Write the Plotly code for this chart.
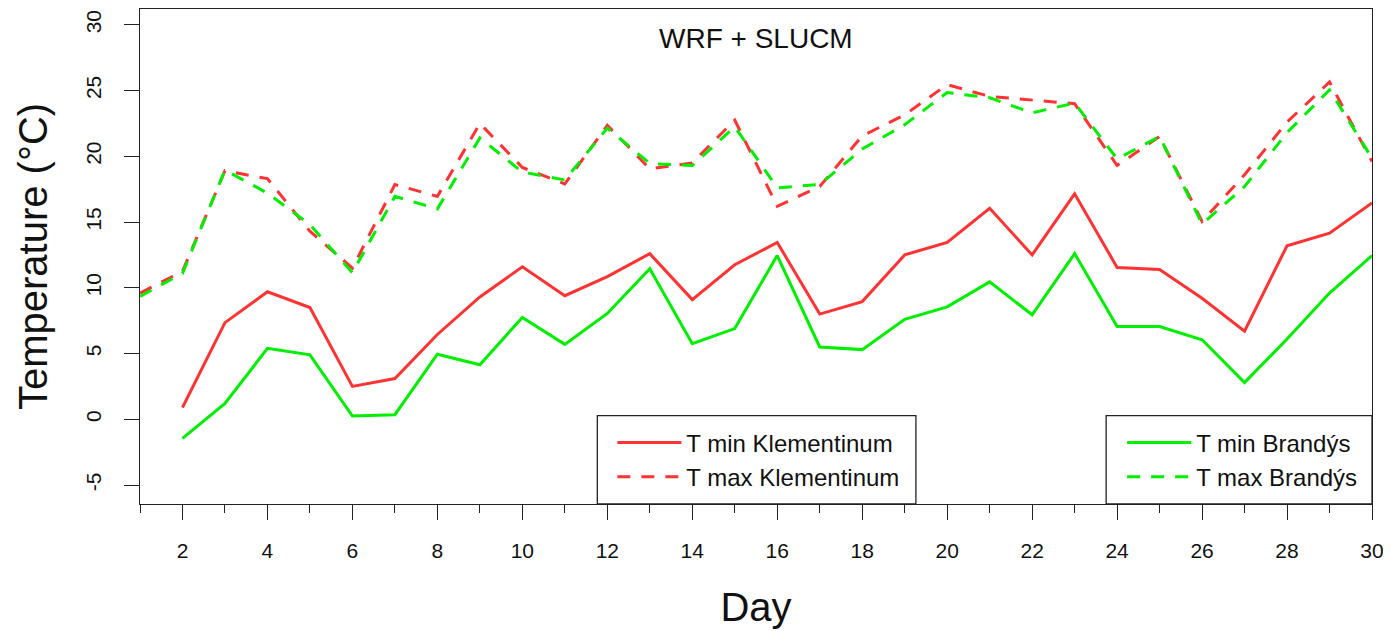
import plotly.graph_objects as go

days = list(range(1, 31))
tmin_klem = [None, 0.9, 7.35, 9.7, 8.5, 2.5, 3.1, 6.45, 9.3, 11.6, 9.4, 10.85, 12.6, 9.1, 11.75,
             13.45, 8.0, 8.95, 12.5, 13.45, 16.05, 12.5, 17.15, 11.55, 11.4, 9.2, 6.7, 13.2, 14.15, 16.45]
tmin_bran = [None, -1.45, 1.2, 5.4, 4.9, 0.25, 0.35, 4.95, 4.15, 7.75, 5.7, 8.05, 11.45, 5.75, 6.9,
             12.45, 5.5, 5.3, 7.6, 8.55, 10.45, 7.95, 12.6, 7.05, 7.05, 6.05, 2.8, 6.1, 9.6, 12.45]
tmax_klem = [9.6, 11.25, 18.9, 18.3, 14.3, 11.5, 17.85, 16.95, 22.5, 19.15, 17.9, 22.35, 19.05, 19.5, 22.75,
             16.2, 17.7, 21.55, 23.15, 25.45, 24.55, 24.25, 24.0, 19.3, 21.5, 15.05, 18.6, 22.6, 25.65, 19.6]
tmax_bran = [9.35, 11.1, 18.95, 17.2, 14.8, 11.15, 16.95, 16.0, 21.4, 18.8, 18.2, 22.15, 19.45, 19.3, 22.25,
             17.6, 17.85, 20.55, 22.4, 24.85, 24.45, 23.3, 24.05, 19.8, 21.5, 14.85, 17.7, 21.8, 25.05, 19.85]
x_tickvals = list(range(2, 31, 2))
x_ticktext = [str(v) for v in x_tickvals]
y_tickvals = list(range(-5, 31, 5))
y_ticktext = ["-5", "0", "5", "10", "15", "20", "25", "30"]

RED = "#ff3333"
GREEN = "#00ee00"
DASH = "13px,11px"
FONT = "Liberation Sans, Arial, Helvetica, sans-serif"

fig = go.Figure()
fig.add_trace(go.Scatter(x=days, y=tmin_klem, mode="lines", name="T min Klementinum",
                         line=dict(color=RED, width=3), legend="legend"))
fig.add_trace(go.Scatter(x=days, y=tmax_klem, mode="lines", name="T max Klementinum",
                         line=dict(color=RED, width=3, dash=DASH), legend="legend"))
fig.add_trace(go.Scatter(x=days, y=tmin_bran, mode="lines", name="T min Brandýs",
                         line=dict(color=GREEN, width=3), legend="legend2"))
fig.add_trace(go.Scatter(x=days, y=tmax_bran, mode="lines", name="T max Brandýs",
                         line=dict(color=GREEN, width=3, dash=DASH), legend="legend2"))

legend_common = dict(bgcolor="rgba(0,0,0,0)", borderwidth=0, itemwidth=64,
                     font=dict(family=FONT, size=24, color="#111"),
                     yanchor="top", y=0.169, xanchor="left", tracegroupgap=0)

fig.update_layout(
    width=1383, height=623,
    margin=dict(l=132, r=19, t=1, b=127),
    plot_bgcolor="white", paper_bgcolor="white",
    font=dict(family=FONT, color="#111"),
    showlegend=True,
    legend=dict(x=0.3834, **legend_common),
    legend2=dict(x=0.7972, **legend_common),
    xaxis=dict(range=[1, 30], tickvals=x_tickvals, ticktext=x_ticktext, ticks="outside", ticklen=15, tickwidth=1.3,
               tickcolor="#222", showgrid=False, zeroline=False, showline=True, mirror=True,
               linecolor="#222", linewidth=1.3, tickfont=dict(size=21, family=FONT, color="#111"),
               ticklabelstandoff=13, ticklabeloverflow="allow",
               minor=dict(dtick=1, tick0=1, ticks="outside", ticklen=8, tickwidth=1.3, tickcolor="#222", showgrid=False),
               title=dict(text="Day", font=dict(size=40, family=FONT, color="#111"), standoff=31)),
    yaxis=dict(range=[-6.44, 31.2], tickvals=y_tickvals, ticktext=y_ticktext, ticks="outside", ticklen=15, tickwidth=1.3,
               tickcolor="#222", showgrid=False, zeroline=False, showline=True, mirror=True,
               linecolor="#222", linewidth=1.3, tickangle=-90, tickfont=dict(size=21, family=FONT, color="#111"),
               ticklabelstandoff=14, ticklabeloverflow="allow",
               title=dict(text="Temperature (°C)", font=dict(size=40, family=FONT, color="#111"), standoff=22)),
    shapes=[
        dict(type="rect", xref="paper", yref="paper", x0=0.3712, x1=0.6298, y0=0, y1=0.1784,
             line=dict(color="#222", width=1.3), fillcolor="rgba(0,0,0,0)", layer="above"),
        dict(type="rect", xref="paper", yref="paper", x0=0.7842, x1=1, y0=0, y1=0.1784,
             line=dict(color="#222", width=1.3), fillcolor="rgba(0,0,0,0)", layer="above"),
    ],
    annotations=[
        dict(text="WRF + SLUCM", xref="paper", yref="paper", x=0.5, y=0.941, showarrow=False,
             xanchor="center", yanchor="middle", font=dict(size=28, family=FONT, color="#111")),
    ],
)

fig.write_html("out.html")
